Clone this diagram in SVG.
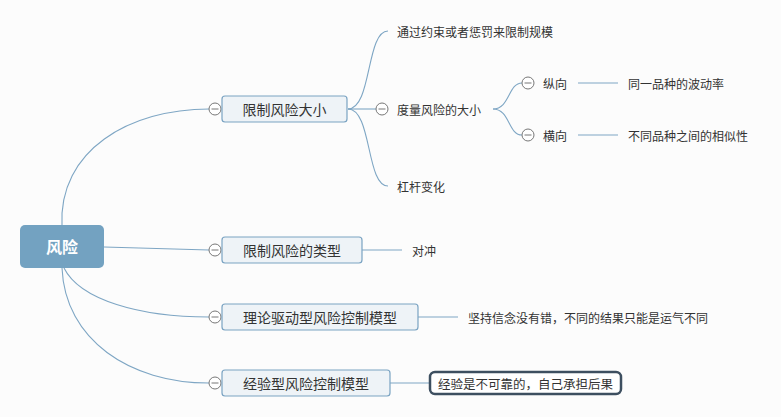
<svg xmlns="http://www.w3.org/2000/svg" width="781" height="417" viewBox="0 0 781 417">
<style>
.bg{fill:#fcfcfc}
.ln{fill:none;stroke:#7ea6c4;stroke-width:1.1}
.box{fill:#eef3f7;stroke:#7aa3c2;stroke-width:1.2}
.col{fill:#fff;stroke:#777;stroke-width:1}
.t{font-family:"Noto Sans CJK SC","Noto Sans",sans-serif;fill:#333;dominant-baseline:central}
.m{font-size:14px;text-anchor:middle}
.s{font-size:12px}
</style>
<defs>
<g id="c"><circle r="6" class="col"/><line x1="-3.5" y1="0" x2="3.5" y2="0" stroke="#777" stroke-width="1"/></g>
</defs>
<rect class="bg" width="781" height="417"/>
<g id="connectors">
<path class="ln" d="M62 226 C58 150 130 109 209 109"/>
<path class="ln" d="M104 247 L209 250" stroke-width="1.5"/>
<path class="ln" d="M64 268 C80 300 140 317 209 317"/>
<path class="ln" d="M62 268 C65 340 130 383 209 383"/>
<path class="ln" d="M348 109 C372 109 366 31 388 31"/>
<path class="ln" d="M348 109 L376 109"/>
<path class="ln" d="M348 109 C372 109 366 186 388 186"/>
<path class="ln" d="M493 109 C510 109 508 83 522 83"/>
<path class="ln" d="M493 109 C510 109 508 135 522 135"/>
<path class="ln" d="M578 83 L618 83"/>
<path class="ln" d="M578 135 L618 135"/>
<path class="ln" d="M362 250 L402 250"/>
<path class="ln" d="M418 317 L458 317"/>
<path class="ln" d="M390 383 L429 383"/>
</g>
<g id="root">
<rect x="20" y="225" width="84" height="43" rx="5" fill="#73a2c1"/>
<text x="62" y="246" class="t" font-size="16" font-weight="bold" text-anchor="middle" style="fill:#fff">风险</text>
</g>
<g id="n1">
<use href="#c" x="215" y="109"/>
<rect class="box" x="222" y="96" width="125" height="26" rx="3"/>
<text class="t m" x="284.5" y="109">限制风险大小</text>
</g>
<g id="n1a"><text class="t s" x="397" y="31">通过约束或者惩罚来限制规模</text></g>
<g id="n1b"><use href="#c" x="382" y="109"/><text class="t s" x="397" y="109">度量风险的大小</text></g>
<g id="n1c"><text class="t s" x="397" y="186">杠杆变化</text></g>
<g id="n1b1"><use href="#c" x="528" y="83"/><text class="t s" x="543" y="83">纵向</text></g>
<g id="n1b2"><use href="#c" x="528" y="135"/><text class="t s" x="543" y="135">横向</text></g>
<g id="n1b1a"><text class="t s" x="628" y="83">同一品种的波动率</text></g>
<g id="n1b2a"><text class="t s" x="628" y="135">不同品种之间的相似性</text></g>
<g id="n2">
<use href="#c" x="215" y="250"/>
<rect class="box" x="222" y="237" width="140" height="26" rx="3"/>
<text class="t m" x="292" y="250">限制风险的类型</text>
</g>
<g id="n2a"><text class="t s" x="412" y="250">对冲</text></g>
<g id="n3">
<use href="#c" x="215" y="317"/>
<rect class="box" x="222" y="304" width="196" height="26" rx="3"/>
<text class="t m" x="320" y="317">理论驱动型风险控制模型</text>
</g>
<g id="n3a"><text class="t s" x="468" y="317">坚持信念没有错，不同的结果只能是运气不同</text></g>
<g id="n4">
<use href="#c" x="215" y="383"/>
<rect class="box" x="222" y="370" width="168" height="26" rx="3"/>
<text class="t m" x="306" y="383">经验型风险控制模型</text>
</g>
<g id="n4a">
<rect x="430" y="372" width="191" height="22" rx="5" fill="#fff" stroke="#3d4f60" stroke-width="2.5"/>
<text class="t" font-size="12.5" x="525.5" y="383" text-anchor="middle">经验是不可靠的，自己承担后果</text>
</g>
</svg>
